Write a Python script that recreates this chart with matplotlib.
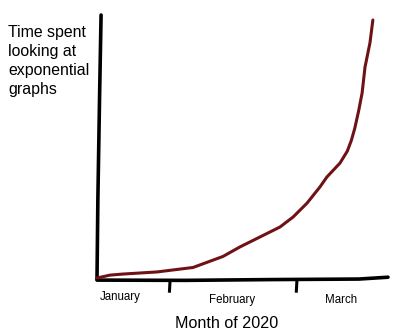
import matplotlib.pyplot as plt

# hand-drawn "time spent looking at exponential graphs" meme
# x: time (0-100, arbitrary units across Jan-Mar), y: time spent (0-100)
curve_x = [0, 4.5, 8.9, 20.6, 33.0, 43.3, 49.1, 56.0, 62.9, 67.4, 72.2, 76.6, 79.0, 83.5,
           86.0, 87.4, 88.6, 89.9, 91.1, 92.1, 93.8, 94.8]
curve_y = [0, 1.1, 1.5, 2.3, 4.0, 8.2, 11.8, 15.6, 19.4, 23.2, 28.5, 34.6, 38.4, 43.7,
           48.2, 52.3, 57.0, 63.5, 70.3, 80.2, 89.4, 98.1]

month_ticks = [25.1, 68.7]
month_labels = ['January', 'February', 'March']
month_label_x = [7.9, 46.4, 83.8]
month_label_y = [-7.4, -8.3, -8.3]

ylabel_lines = ['Time spent', 'looking at', 'exponential', 'graphs']

plt.rcParams['font.family'] = ['Liberation Sans', 'DejaVu Sans']

fig = plt.figure(figsize=(4.13, 3.34), dpi=100)
ax = fig.add_axes([97 / 413, 56 / 334, 291 / 413, 263 / 334])
ax.set_xlim(0, 100)
ax.set_ylim(0, 100)
ax.axis('off')

# axes drawn by hand
ax.plot([1.4, 0.9, 0.3, 0], [100, 70, 30, -0.5], color='black', lw=2.6,
        solid_capstyle='round', clip_on=False)
ax.plot([0, 30, 60, 90, 100], [-0.8, -0.9, -0.6, -0.4, 0.3], color='black', lw=2.6,
        solid_capstyle='round', clip_on=False)
for t in month_ticks:
    ax.plot([t, t - 0.2], [-1.0, -5.0], color='black', lw=2.2, clip_on=False)

ax.plot(curve_x, curve_y, color='#6e1216', lw=2.2, solid_capstyle='round',
        solid_joinstyle='round', clip_on=False)

for lab, x, y in zip(month_labels, month_label_x, month_label_y):
    ax.text(x, y, lab, ha='center', va='center', fontsize=8.3, clip_on=False)

fig.text(227 / 413, 1 - 323 / 334, 'Month of 2020', ha='center', va='center',
         fontsize=11.6)

fig.text(8 / 413, 1 - 25 / 334, '\n'.join(ylabel_lines), ha='left', va='top',
         fontsize=11.4, linespacing=1.33)

fig.savefig('out.png', dpi=100)
